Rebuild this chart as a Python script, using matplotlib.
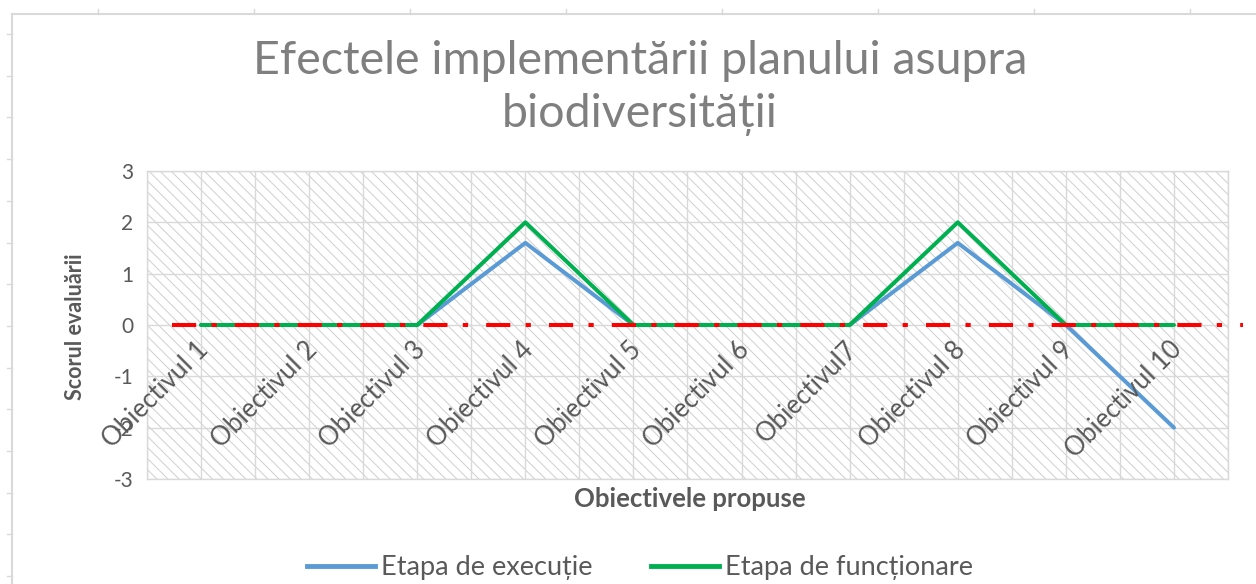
import matplotlib
matplotlib.use('Agg')
import matplotlib.pyplot as plt
import numpy as np
from matplotlib.lines import Line2D
from matplotlib.patches import Rectangle
from matplotlib.transforms import offset_copy

# ---- data ----
categories = ["Obiectivul 1", "Obiectivul 2", "Obiectivul 3", "Obiectivul 4",
              "Obiectivul 5", "Obiectivul 6", "Obiectivul7", "Obiectivul 8",
              "Obiectivul 9", "Obiectivul 10"]
etapa_executie = [0, 0, 0, 1.6, 0, 0, 0, 1.6, 0, -2]
etapa_functionare = [0, 0, 0, 2, 0, 0, 0, 2, 0, 0]
ref_x = [0.73, 10.64]
ref_y = [0, 0]
y_ticks = [-3, -2, -1, 0, 1, 2, 3]
title = "Efectele implementării planului asupra\nbiodiversității"
legend_labels = ["Etapa de execuție", "Etapa de funcționare"]

FONT = ['Lato', 'DejaVu Sans']
plt.rcParams['font.family'] = FONT
plt.rcParams['axes.unicode_minus'] = False
plt.rcParams['hatch.linewidth'] = 0.7

W, H = 1256, 584
fig = plt.figure(figsize=(W / 100, H / 100), dpi=100)
fig.patch.set_facecolor('white')

# spreadsheet frame decoration
grey = '#d9d9d9'
fig.add_artist(Line2D([12 / W, 1], [1 - 13.5 / H] * 2, color=grey, lw=1.5))
fig.add_artist(Line2D([12 / W] * 2, [0, 1 - 13.5 / H], color=grey, lw=1.5))
for tx in np.arange(98, W, 156):
    fig.add_artist(Line2D([tx / W] * 2, [1 - 9 / H, 1 - 13.5 / H], color=grey, lw=1))
for ty in np.arange(34, H, 41.7):
    fig.add_artist(Line2D([7 / W, 12 / W], [1 - ty / H] * 2, color=grey, lw=1))

L, R, T, B = 147, 1228, 171, 479
ax = fig.add_axes([L / W, 1 - B / H, (R - L) / W, (B - T) / H])
x = np.arange(1, len(categories) + 1)
ax.set_xlim(0.5, len(categories) + 0.5)
ax.set_ylim(-3, 3)

# hatched plot area
ax.add_patch(Rectangle((0, 0), 1, 1, transform=ax.transAxes, facecolor='white',
                       edgecolor='#cfcfcf', hatch='\\' * 3, lw=0, zorder=0))
ax.set_xticks(x)
ax.set_xticks(np.arange(0.5, len(categories) + 0.51, 1.0), minor=True)
ax.set_xticklabels([])
ax.set_yticks(y_ticks)
ax.set_yticklabels([str(v) for v in y_ticks], fontsize=15, color='#595959')
ax.tick_params(length=0, which='both', pad=10)
ax.xaxis.grid(True, which='both', color=grey, lw=1, zorder=1)
ax.yaxis.grid(True, which='major', color=grey, lw=1, zorder=1)
ax.set_axisbelow(True)
for s in ax.spines.values():
    s.set_color(grey)
    s.set_linewidth(1)

ax.plot(x, etapa_executie, color='#5b9bd5', lw=2.9, zorder=3, solid_capstyle='round')
ax.plot(x, etapa_functionare, color='#00b050', lw=2.9, zorder=4, solid_capstyle='round')
ax.plot(ref_x, ref_y, color='#ff0000', lw=2.9, zorder=5, clip_on=False,
        linestyle=(0, (6, 3.8, 1.3, 4.5)), dash_capstyle='butt')

# category labels at the zero line, rotated
tr = offset_copy(ax.transData, fig=fig, x=-5, y=-12, units='dots')
for xi, lab in zip(x, categories):
    ax.text(xi, 0, lab, transform=tr, rotation=45, rotation_mode='anchor',
            ha='right', va='top', fontsize=18.5, color='#595959', zorder=6)

fig.text(640 / W, 1 - 88 / H, title, ha='center', va='center', fontsize=33.5,
         color='#7f7f7f', linespacing=1.35)
fig.text(75 / W, 1 - 327 / H, "Scorul evaluării", rotation=90, ha='center', va='center',
         fontsize=15.5, fontweight='bold', color='#595959')
fig.text(690 / W, 1 - 499 / H, "Obiectivele propuse", ha='center', va='center',
         fontsize=18.5, fontweight='bold', color='#595959')

handles = [Line2D([], [], color='#5b9bd5', lw=3.5),
           Line2D([], [], color='#00b050', lw=3.5)]
fig.legend(handles, legend_labels, loc='center', bbox_to_anchor=(640 / W, 1 - 568 / H),
           ncol=2, frameon=False, fontsize=19.5, handlelength=2.5, handletextpad=0.22,
           columnspacing=2.15, labelcolor='#595959')

fig.savefig('out.png', dpi=100, facecolor='white')
